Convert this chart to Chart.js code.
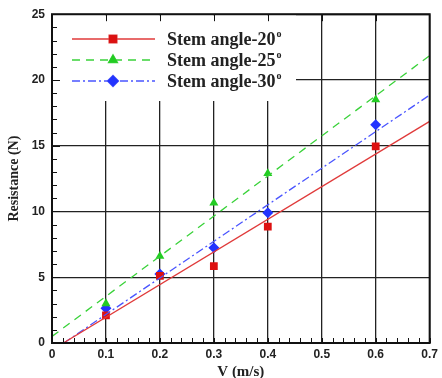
<!DOCTYPE html>
<html>
<head>
<meta charset="utf-8">
<script src="https://cdn.jsdelivr.net/npm/chart.js@4.4.1/dist/chart.umd.min.js"></script>
<style>
  html, body { margin: 0; padding: 0; background: #fff; }
  #wrap { width: 442px; height: 378px; }
</style>
</head>
<body>
<div id="wrap"><canvas id="c" width="442" height="378"></canvas></div>
<script>
// данные
const speeds = [0.1, 0.2, 0.3, 0.4, 0.6];
const res20 = [2.1, 5.1, 5.85, 8.85, 14.95];
const res25 = [3.0, 6.6, 10.65, 12.9, 18.5];
const res30 = [2.65, 5.25, 7.25, 9.9, 16.6];

// линии аппроксимации: концы отрезков
const fit20x = [0.021, 0.7];
const fit20y = [0, 16.85];
const fit25x = [0, 0.7];
const fit25y = [0.5, 21.85];
const fit30x = [0.022, 0.7];
const fit30y = [0, 18.85];

const legendLabels = ['Stem angle-20', 'Stem angle-25', 'Stem angle-30'];
const xTicks = [0, 0.1, 0.2, 0.3, 0.4, 0.5, 0.6, 0.7];
const yTicks = [0, 5, 10, 15, 20, 25];

const RED = '#dd1111';
const GREEN = '#22cc22';
const BLUE = '#2233ff';
const RED_L = '#e03a3a';
const GREEN_L = '#3ad23a';
const BLUE_L = '#4a55ff';

function pts(xs, ys) {
    return xs.map((x, i) => ({ x: x, y: ys[i] }));
}

// стиль серий для легенды
const seriesStyle = [
    { color: RED, line: RED_L, dash: [], shape: 'rect', r: 5.5 },
    { color: GREEN, line: GREEN_L, dash: [8, 6], shape: 'triangle', r: 5.2 },
    { color: BLUE, line: BLUE_L, dash: [8, 3, 2, 3], shape: 'rectRot', r: 5.5 }
];

// белая подложка и легенда внутри области графика
const legendBox = {
    id: 'legendBox',
    beforeDatasetsDraw(chart) {
        const ctx = chart.ctx;
        const a = chart.chartArea;
        ctx.save();
        ctx.fillStyle = '#fff';
        ctx.fillRect(a.left + 1, a.top + 1, 295 - a.left, 100 - a.top);
        ctx.restore();
    },
    afterDatasetsDraw(chart) {
        const ctx = chart.ctx;
        const a = chart.chartArea;
        ctx.save();
        const rows = [39, 60, 81];
        rows.forEach((y, i) => {
            const s = seriesStyle[i];
            ctx.strokeStyle = s.line;
            ctx.lineWidth = 1.3;
            ctx.setLineDash(s.dash);
            ctx.beginPath();
            ctx.moveTo(72, y);
            ctx.lineTo(155, y);
            ctx.stroke();
            ctx.setLineDash([]);
            Chart.helpers.drawPoint(ctx, {
                pointStyle: s.shape, radius: s.r, borderWidth: 1, rotation: 0
            }, 113, y);
            ctx.fillStyle = s.color;
            ctx.fill();
            ctx.fillStyle = '#222';
            ctx.font = 'bold 18px "Liberation Serif", "Times New Roman", serif';
            ctx.textBaseline = 'middle';
            ctx.textAlign = 'left';
            ctx.fillText(legendLabels[i], 167, y + 1);
            const w = ctx.measureText(legendLabels[i]).width;
            ctx.font = 'bold 10px "Liberation Serif", "Times New Roman", serif';
            ctx.fillText('o', 167 + w + 1, y - 5);
        });

        // рамка и засечки
        ctx.strokeStyle = '#111';
        ctx.lineWidth = 1;
        const xs = chart.scales.x;
        const ys = chart.scales.y;
        ctx.beginPath();
        for (let v = 0; v <= 0.7001; v += 0.02) {
            const px = Math.round(xs.getPixelForValue(v)) + 0.5;
            ctx.moveTo(px, a.bottom);
            ctx.lineTo(px, a.bottom - 5);
        }
        for (let v = 0; v <= 25; v += 1) {
            const py = Math.round(ys.getPixelForValue(v)) + 0.5;
            const len = v % 5 === 0 ? 8 : 5;
            ctx.moveTo(a.left, py);
            ctx.lineTo(a.left + len, py);
        }
        for (let v = 0.1; v < 0.65; v += 0.1) {
            const px = Math.round(xs.getPixelForValue(v)) + 0.5;
            ctx.moveTo(px, a.top);
            ctx.lineTo(px, a.top + 7);
        }
        ctx.stroke();
        ctx.lineWidth = 2;
        ctx.strokeRect(a.left, a.top, a.right - a.left, a.bottom - a.top);
        ctx.restore();
    }
};

new Chart(document.getElementById('c').getContext('2d'), {
    type: 'scatter',
    data: {
        datasets: [
            { data: pts(fit20x, fit20y), showLine: true, borderColor: RED_L, borderWidth: 1.3, pointRadius: 0 },
            { data: pts(fit25x, fit25y), showLine: true, borderColor: GREEN_L, borderWidth: 1.3, borderDash: [8, 6], pointRadius: 0 },
            { data: pts(fit30x, fit30y), showLine: true, borderColor: BLUE_L, borderWidth: 1.3, borderDash: [8, 3, 2, 3], pointRadius: 0 },
            { data: pts(speeds, res20), pointStyle: 'rect', pointRadius: 5.5, backgroundColor: RED, borderColor: RED, borderWidth: 0 },
            { data: pts(speeds, res25), pointStyle: 'triangle', pointRadius: 5.2, backgroundColor: GREEN, borderColor: GREEN, borderWidth: 0 },
            { data: pts(speeds, res30), pointStyle: 'rectRot', pointRadius: 5.5, backgroundColor: BLUE, borderColor: BLUE, borderWidth: 0 }
        ]
    },
    options: {
        responsive: false,
        animation: false,
        layout: { padding: { left: 6, right: 8, top: 8, bottom: 0 } },
        plugins: { legend: { display: false }, tooltip: { enabled: false } },
        scales: {
            x: {
                type: 'linear',
                min: 0, max: 0.7,
                afterBuildTicks: s => { s.ticks = xTicks.map(v => ({ value: v })); },
                afterFit: s => { s.height = 35; },
                grid: { color: '#222', lineWidth: 1.3, drawTicks: false },
                border: { display: false },
                ticks: {
                    padding: 4,
                    color: '#222',
                    font: { family: '"Liberation Sans", Arial, sans-serif', size: 12, weight: 'bold' },
                    callback: v => String(+v.toFixed(1))
                },
                title: {
                    display: true, text: 'V (m/s)', color: '#222', padding: { top: 0, bottom: -3 },
                    font: { family: '"Liberation Serif", "Times New Roman", serif', size: 15, weight: 'bold' }
                }
            },
            y: {
                min: 0, max: 25,
                afterBuildTicks: s => { s.ticks = yTicks.map(v => ({ value: v })); },
                afterFit: s => { s.width = 46; },
                grid: { color: '#222', lineWidth: 1.3, drawTicks: false },
                border: { display: false },
                ticks: {
                    padding: 7,
                    color: '#222',
                    font: { family: '"Liberation Sans", Arial, sans-serif', size: 12, weight: 'bold' }
                },
                title: {
                    display: true, text: 'Resistance (N)', color: '#222', padding: { top: 0, bottom: 0 },
                    font: { family: '"Liberation Serif", "Times New Roman", serif', size: 14, weight: 'bold' }
                }
            }
        }
    },
    plugins: [legendBox]
});
</script>
</body>
</html>
